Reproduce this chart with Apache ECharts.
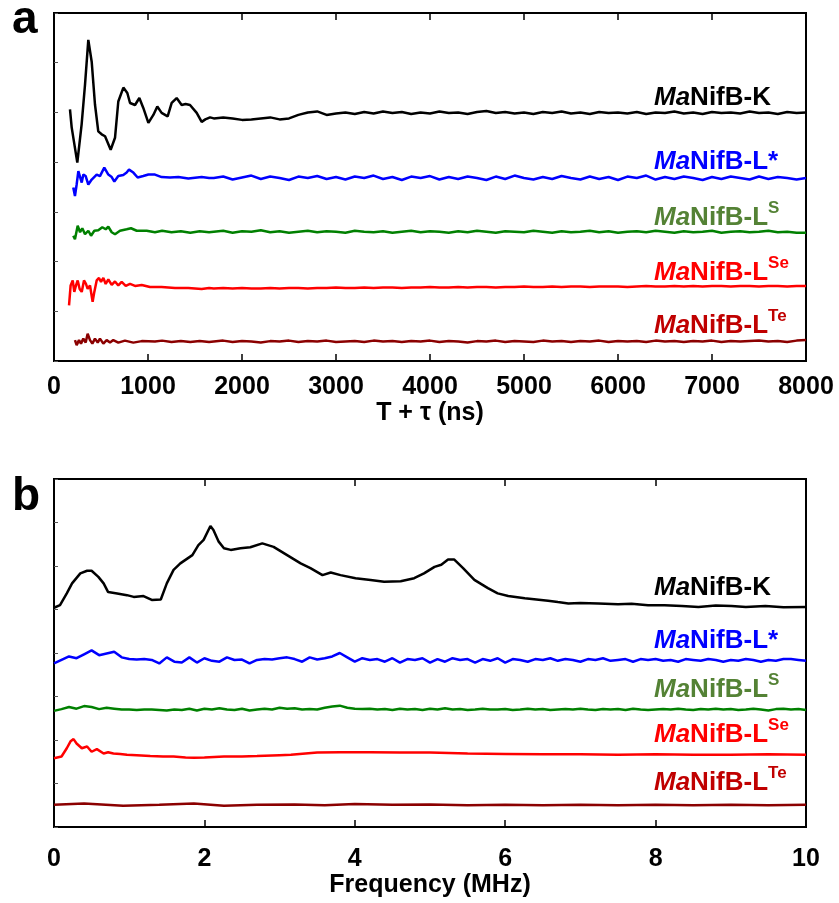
<!DOCTYPE html>
<html><head><meta charset="utf-8">
<script src="https://cdn.jsdelivr.net/npm/echarts@6/dist/echarts.min.js"></script>
<style>html,body{margin:0;padding:0;background:#fff}#c{width:839px;height:903px}</style>
</head><body><div id="c"></div>
<script>
// ---------- tick labels ----------
const timeTicks = [0,1000,2000,3000,4000,5000,6000,7000,8000];
const freqTicks = [0,2,4,6,8,10];
const seriesNames = ['MaNifB-K','MaNifB-L*','MaNifB-LS','MaNifB-LSe','MaNifB-LTe'];

// ---------- panel a : time domain (ns, offset intensity) ----------
const tailT = [1700,1800,1900,2000,2100,2200,2300,2400,2500,2600,
               2700,2800,2900,3000,3100,3200,3300,3400,3500,3600,
               3700,3800,3900,4000,4100,4200,4300,4400,4500,4600,
               4700,4800,4900,5000,5100,5200,5300,5400,5500,5600,
               5700,5800,5900,6000,6100,6200,6300,6400,6500,6600,
               6700,6800,6900,7000,7100,7200,7300,7400,7500,7600,
               7700,7800,7900,8000];

const kHead = [[170,5.06],[188,4.7],[206,4.69],[248,3.99],[294,4.76],[330,5.56],[365,6.46],[401,6.02],[436,5.16],[471,4.62],
  [507,4.56],[543,4.52],[560,4.49],[603,4.25],[649,4.49],[684,5.22],[738,5.5],[780,5.39],[809,5.19],[862,5.15],
  [908,5.29],[950,5.09],[1004,4.79],[1057,4.95],[1099,5.12],[1145,4.99],[1209,4.92],[1252,5.19],[1305,5.29],[1358,5.15],
  [1400,5.17],[1447,5.15],[1518,4.99],[1571,4.81],[1610,4.86],[1660,4.9]];
const kTail = [4.88,4.9,4.88,4.85,4.86,4.88,4.9,4.86,4.88,4.95,
               5.0,5.02,4.95,4.98,5.0,4.97,5.01,4.98,5.02,4.99,
               5.01,4.97,5.0,4.98,5.02,4.99,5.0,4.97,5.01,5.03,
               4.99,5.01,4.98,5.0,4.97,5.01,4.99,5.02,4.98,5.0,
               4.97,5.01,4.99,5.0,4.98,5.01,4.97,5.0,4.99,5.02,
               4.98,5.0,4.97,5.01,4.99,5.0,4.98,5.02,4.99,5.0,
               4.97,5.01,4.99,5.0];

const bHead = [[205,3.49],[223,3.32],[241,3.55],[259,3.82],[277,3.85],[295,3.59],[312,3.75],[337,3.72],[365,3.55],[401,3.65],
  [454,3.75],[489,3.72],[535,3.89],[578,3.75],[614,3.7],[642,3.61],[684,3.72],[737,3.74],[773,3.79],[798,3.85],
  [844,3.79],[890,3.69],[950,3.72],[1004,3.75],[1074,3.75],[1145,3.7],[1234,3.69],[1323,3.7],[1429,3.67],[1571,3.7],[1650,3.68]];
const bTail = [3.68,3.71,3.65,3.69,3.73,3.66,3.71,3.68,3.64,3.71,
               3.68,3.72,3.66,3.7,3.65,3.71,3.68,3.73,3.66,3.7,
               3.64,3.71,3.68,3.72,3.65,3.7,3.66,3.71,3.68,3.64,
               3.71,3.66,3.73,3.68,3.65,3.7,3.66,3.72,3.68,3.65,
               3.71,3.66,3.7,3.64,3.71,3.68,3.73,3.65,3.7,3.66,
               3.71,3.68,3.64,3.7,3.66,3.71,3.68,3.65,3.71,3.66,
               3.7,3.68,3.65,3.68];

const gHead = [[205,2.52],[223,2.45],[252,2.72],[277,2.59],[301,2.67],[330,2.55],[365,2.62],[394,2.52],[429,2.62],[471,2.63],
  [514,2.69],[550,2.65],[578,2.7],[614,2.59],[649,2.55],[702,2.62],[773,2.65],[819,2.67],[880,2.62],[986,2.62],
  [1074,2.59],[1150,2.62],[1250,2.59],[1350,2.61],[1450,2.58],[1550,2.61],[1650,2.59]];
const gTail = [2.6,2.62,2.58,2.61,2.6,2.63,2.59,2.61,2.58,2.6,
               2.62,2.59,2.61,2.6,2.58,2.62,2.6,2.59,2.61,2.58,
               2.6,2.62,2.59,2.61,2.6,2.58,2.61,2.59,2.62,2.6,
               2.58,2.61,2.6,2.59,2.62,2.6,2.58,2.61,2.59,2.6,
               2.62,2.59,2.61,2.58,2.6,2.61,2.59,2.62,2.6,2.58,
               2.61,2.59,2.6,2.62,2.58,2.6,2.61,2.59,2.6,2.62,
               2.59,2.6,2.58,2.58];

const rHead = [[160,1.12],[177,1.52],[199,1.62],[216,1.39],[234,1.52],[252,1.62],[273,1.45],[295,1.39],[319,1.62],[340,1.55],
  [358,1.45],[383,1.52],[411,1.19],[429,1.39],[454,1.62],[479,1.67],[500,1.59],[525,1.67],[550,1.55],[578,1.64],
  [614,1.53],[649,1.6],[684,1.52],[720,1.59],[763,1.51],[809,1.55],[862,1.51],[933,1.53],[1021,1.49],[1145,1.49],
  [1287,1.47],[1429,1.47],[1571,1.45],[1650,1.47]];
const rTail = [1.46,1.47,1.46,1.47,1.46,1.46,1.47,1.46,1.47,1.47,
               1.46,1.47,1.47,1.48,1.47,1.47,1.48,1.47,1.48,1.48,
               1.47,1.48,1.48,1.49,1.48,1.48,1.49,1.48,1.49,1.49,
               1.48,1.49,1.49,1.5,1.49,1.49,1.5,1.49,1.5,1.5,
               1.49,1.5,1.5,1.5,1.49,1.5,1.51,1.5,1.5,1.51,
               1.5,1.51,1.5,1.51,1.51,1.5,1.51,1.51,1.5,1.51,
               1.51,1.5,1.51,1.51];

const tHead = [[223,0.42],[241,0.32],[266,0.42],[287,0.35],[312,0.45],[337,0.37],[358,0.55],[383,0.42],[408,0.35],[436,0.45],
  [465,0.37],[489,0.45],[525,0.35],[560,0.42],[596,0.37],[631,0.42],[684,0.37],[755,0.41],[844,0.37],[933,0.4],
  [1074,0.39],[1150,0.41],[1250,0.38],[1350,0.4],[1450,0.38],[1550,0.4],[1650,0.38]];
const tTail = [0.39,0.41,0.38,0.4,0.39,0.37,0.4,0.39,0.41,0.38,
               0.4,0.39,0.41,0.38,0.39,0.4,0.38,0.41,0.39,0.4,
               0.38,0.4,0.39,0.41,0.38,0.4,0.39,0.37,0.4,0.39,
               0.41,0.38,0.4,0.39,0.38,0.41,0.39,0.4,0.38,0.4,
               0.39,0.41,0.38,0.4,0.39,0.4,0.38,0.41,0.39,0.4,
               0.38,0.4,0.39,0.41,0.38,0.4,0.39,0.4,0.41,0.39,
               0.4,0.38,0.41,0.42];

// ---------- panel b : frequency domain (MHz) ----------
const fGrid = [0,0.1,0.2,0.3,0.4,0.5,0.6,0.7,0.8,0.9,
               1,1.1,1.2,1.3,1.4,1.5,1.6,1.7,1.8,1.9,
               2,2.1,2.2,2.3,2.4,2.5,2.6,2.7,2.8,2.9,
               3,3.1,3.2,3.3,3.4,3.5,3.6,3.7,3.8,3.9,
               4,4.1,4.2,4.3,4.4,4.5,4.6,4.7,4.8,4.9,
               5,5.1,5.2,5.3,5.4,5.5,5.6,5.7,5.8,5.9,
               6,6.1,6.2,6.3,6.4,6.5,6.6,6.7,6.8,6.9,
               7,7.1,7.2,7.3,7.4,7.5,7.6,7.7,7.8,7.9,
               8,8.1,8.2,8.3,8.4,8.5,8.6,8.7,8.8,8.9,
               9,9.1,9.2,9.3,9.4,9.5,9.6,9.7,9.8,9.9,10];

const kFreq = [[0,5.04],[0.08,5.1],[0.17,5.37],[0.24,5.6],[0.35,5.83],[0.44,5.89],[0.5,5.89],[0.59,5.75],[0.66,5.6],[0.72,5.4],
  [0.84,5.37],[0.97,5.33],[1.06,5.29],[1.19,5.31],[1.3,5.22],[1.42,5.23],[1.5,5.6],[1.59,5.91],[1.68,6.06],[1.84,6.25],
  [1.92,6.48],[1.99,6.6],[2.08,6.92],[2.12,6.83],[2.19,6.56],[2.26,6.41],[2.35,6.37],[2.48,6.41],[2.61,6.43],[2.77,6.52],
  [2.92,6.44],[3.1,6.25],[3.28,6.06],[3.41,5.95],[3.57,5.79],[3.68,5.85],[3.81,5.79],[4.01,5.72],[4.21,5.68],[4.39,5.64],
  [4.61,5.65],[4.79,5.72],[4.92,5.83],[5.06,5.98],[5.15,6.03],[5.24,6.15],[5.32,6.15],[5.44,5.95],[5.59,5.68],[5.77,5.49],
  [5.9,5.37],[6.04,5.31],[6.26,5.26],[6.57,5.2],[6.7,5.17],[6.84,5.14],[7.0,5.15],[7.24,5.14],[7.5,5.12],[7.68,5.13],
  [7.9,5.1],[8.12,5.1],[8.35,5.08],[8.57,5.06],[8.8,5.09],[9.01,5.08],[9.2,5.06],[9.46,5.08],[9.7,5.05],[10,5.06]];

const bFreq = [3.76,3.84,3.92,3.88,3.97,4.06,3.95,3.99,4.03,3.9,
               3.86,3.85,3.86,3.84,3.76,3.9,3.8,3.78,3.9,3.78,
               3.88,3.82,3.8,3.9,3.84,3.85,3.76,3.84,3.86,3.85,
               3.88,3.9,3.86,3.8,3.9,3.85,3.88,3.92,4.0,3.9,
               3.8,3.88,3.84,3.86,3.8,3.88,3.78,3.86,3.84,3.88,
               3.78,3.86,3.8,3.88,3.84,3.86,3.78,3.86,3.82,3.88,
               3.78,3.86,3.84,3.8,3.86,3.84,3.88,3.82,3.86,3.84,
               3.8,3.86,3.84,3.88,3.82,3.84,3.86,3.8,3.86,3.84,
               3.86,3.82,3.84,3.8,3.86,3.84,3.82,3.86,3.84,3.8,
               3.84,3.82,3.86,3.84,3.8,3.84,3.82,3.86,3.86,3.84,3.82];

const gFreq = [2.67,2.71,2.76,2.72,2.78,2.76,2.71,2.74,2.72,2.7,
               2.7,2.69,2.7,2.7,2.69,2.68,2.7,2.69,2.72,2.68,
               2.72,2.7,2.73,2.7,2.69,2.72,2.68,2.7,2.72,2.7,
               2.74,2.72,2.73,2.7,2.71,2.7,2.74,2.77,2.79,2.74,
               2.72,2.71,2.72,2.7,2.71,2.69,2.72,2.7,2.71,2.69,
               2.72,2.7,2.73,2.7,2.71,2.69,2.7,2.72,2.7,2.7,
               2.71,2.69,2.7,2.72,2.7,2.71,2.69,2.7,2.71,2.7,
               2.72,2.7,2.69,2.71,2.7,2.71,2.69,2.72,2.7,2.69,
               2.7,2.71,2.7,2.72,2.7,2.69,2.71,2.7,2.72,2.7,
               2.71,2.69,2.7,2.72,2.7,2.68,2.71,2.72,2.7,2.71,2.69];

const rFreq = [[0,1.58],[0.1,1.62],[0.17,1.81],[0.22,1.97],[0.26,2.02],[0.3,1.92],[0.37,1.81],[0.44,1.85],[0.5,1.73],[0.57,1.79],
  [0.66,1.69],[0.72,1.72],[0.79,1.69],[0.88,1.68],[0.97,1.66],[1.1,1.65],[1.28,1.63],[1.45,1.62],[1.59,1.62],[1.75,1.6],
  [1.86,1.59],[2.0,1.6],[2.26,1.62],[2.5,1.62],[2.7,1.63],[3.0,1.65],[3.15,1.66],[3.5,1.71],[3.81,1.72],[4.2,1.72],
  [4.6,1.71],[5.0,1.71],[5.5,1.69],[6.0,1.68],[6.5,1.67],[7.0,1.67],[7.5,1.66],[8.0,1.67],[8.5,1.66],[9.0,1.66],
  [9.5,1.67],[10,1.66]];

const tFreq = [[0,0.51],[0.4,0.54],[0.92,0.49],[1.4,0.51],[1.86,0.54],[2.26,0.49],[2.7,0.51],[3.2,0.52],[3.6,0.5],[4.0,0.53],
  [4.5,0.51],[5.0,0.52],[5.5,0.5],[6.0,0.51],[6.5,0.5],[7.0,0.51],[7.5,0.5],[8.0,0.51],[8.5,0.5],[9.0,0.51],
  [9.5,0.5],[10,0.51]];

// ---------- build ----------
const zip = (xs, ys) => xs.map((x, i) => [x, ys[i]]);
const lineColors = ['#000000', '#0000ff', '#008000', '#ff0000', '#8b0000'];
const textColors = ['#000000', '#0000ff', '#548235', '#ff0000', '#c00000'];
const topData = [kHead.concat(zip(tailT, kTail)), bHead.concat(zip(tailT, bTail)), gHead.concat(zip(tailT, gTail)),
                 rHead.concat(zip(tailT, rTail)), tHead.concat(zip(tailT, tTail))];
const botData = [kFreq, zip(fGrid, bFreq), zip(fGrid, gFreq), rFreq, tFreq];

const FONT = '"Liberation Sans", Arial, Helvetica, sans-serif';
const series = [];
topData.forEach((d, i) => series.push({type:'line', name: seriesNames[i], xAxisIndex:0, yAxisIndex:0, data:d,
  showSymbol:false, smooth:false, lineStyle:{color:lineColors[i], width:2.5}, itemStyle:{color:lineColors[i]}, z:3}));
botData.forEach((d, i) => series.push({type:'line', name: seriesNames[i], xAxisIndex:2, yAxisIndex:1, data:d,
  showSymbol:false, smooth:false, lineStyle:{color:lineColors[i], width:2.5}, itemStyle:{color:lineColors[i]}, z:3}));

function xAx(grid, min, max, interval, ticks, name, margin, nameGap, top) {
  return {
    type:'value', gridIndex:grid, min:min, max:max, interval:interval, position: top ? 'top' : 'bottom',
    axisLine:{show:true, lineStyle:{color:'#000', width:2}},
    axisTick:{show:true, inside:true, length:7, lineStyle:{color:'#000', width:1.5}},
    splitLine:{show:false},
    axisLabel:{show:!top, margin:margin, color:'#000', fontSize:25, fontWeight:'bold', fontFamily:FONT,
      formatter: v => ticks.indexOf(v) >= 0 ? String(v) : ''},
    name: top ? '' : name, nameLocation:'middle', nameGap:nameGap,
    nameTextStyle:{color:'#000', fontSize:25, fontWeight:'bold', fontFamily:FONT}
  };
}
function yAx(grid, max) {
  return {type:'value', gridIndex:grid, min:0, max:max, interval:1,
    axisLine:{show:true, lineStyle:{color:'#000', width:2}},
    axisTick:{show:true, inside:true, length:4, lineStyle:{color:'#555', width:1}},
    axisLabel:{show:false}, splitLine:{show:false}};
}

function labelText(i) {
  const sup = ['', '', 'S', 'Se', 'Te'];
  const base = ['NifB-K', 'NifB-L*', 'NifB-L', 'NifB-L', 'NifB-L'];
  let t = '{i|Ma}{n|' + base[i] + '}';
  if (sup[i]) t += '{s|' + sup[i] + '}';
  return t;
}
function labelGraphic(i, x, y) {
  const c = textColors[i];
  return {type:'text', x:x, y:y, z:10, style:{
    text: labelText(i), align:'left', verticalAlign:'middle',
    rich:{
      i:{fontStyle:'italic', fontWeight:'bold', fontSize:26, fontFamily:FONT, fill:c, lineHeight:31, verticalAlign:'bottom'},
      n:{fontWeight:'bold', fontSize:26, fontFamily:FONT, fill:c, lineHeight:31, verticalAlign:'bottom'},
      s:{fontWeight:'bold', fontSize:17, fontFamily:FONT, fill:c, lineHeight:17, verticalAlign:'top'}
    }}};
}

const topLabelY = [95, 159, 215, 270, 323];
const botLabelY = [585, 638, 687, 732, 780];
const graphics = [];
topLabelY.forEach((y, i) => graphics.push(labelGraphic(i, 654, y)));
botLabelY.forEach((y, i) => graphics.push(labelGraphic(i, 654, y)));
graphics.push({type:'text', x:12, y:20, style:{text:'a', fontSize:46, fontWeight:'bold', fontFamily:FONT, fill:'#000', verticalAlign:'middle'}});
graphics.push({type:'text', x:12, y:497, style:{text:'b', fontSize:46, fontWeight:'bold', fontFamily:FONT, fill:'#000', verticalAlign:'middle'}});

const chart = echarts.init(document.getElementById('c'), null, {renderer:'canvas'});
chart.setOption({
  animation:false,
  backgroundColor:'#fff',
  grid:[
    {left:54, top:13, width:752, height:348, show:true, borderColor:'#000', borderWidth:2, containLabel:false, outerBoundsMode:'none'},
    {left:54, top:479, width:752, height:348, show:true, borderColor:'#000', borderWidth:2, containLabel:false, outerBoundsMode:'none'}
  ],
  xAxis:[
    xAx(0, 0, 8000, 1000, timeTicks, 'T + τ (ns)', 14, 40, false),
    xAx(0, 0, 8000, 1000, timeTicks, '', 12, 50, true),
    xAx(1, 0, 10, 2, freqTicks, 'Frequency (MHz)', 20, 46, false),
    xAx(1, 0, 10, 2, freqTicks, '', 12, 50, true)
  ],
  yAxis:[yAx(0, 7), yAx(1, 8)],
  series: series,
  graphic: graphics
});
</script>
</body></html>
